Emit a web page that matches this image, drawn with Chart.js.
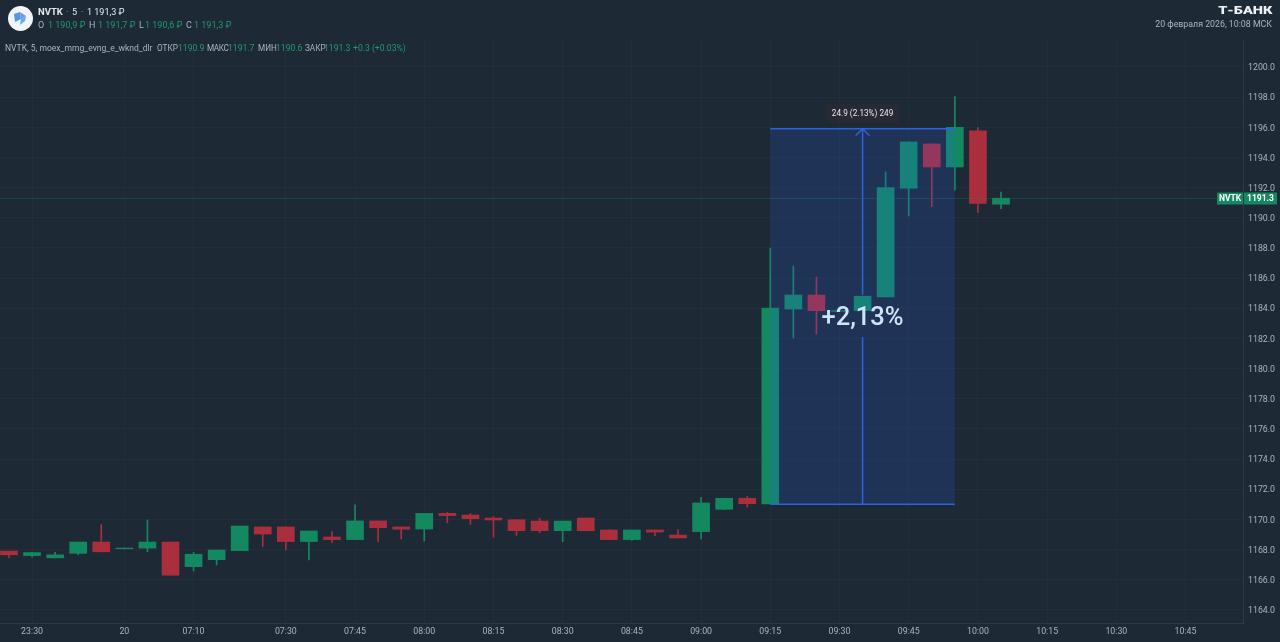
<!DOCTYPE html>
<html>
<head>
<meta charset="utf-8">
<title>NVTK</title>
<script src="https://cdn.jsdelivr.net/npm/chart.js@4/dist/chart.umd.js"></script>
<style>
    html, body { margin: 0; padding: 0; background: #1e2936; overflow: hidden; }
    #wrap { position: relative; width: 1280px; height: 642px; font-family: Roboto, sans-serif; }
    canvas { position: absolute; left: 0; top: 0; }
    .t { position: absolute; white-space: nowrap; line-height: 12px; font-size: 8.6px; color: #a9b4bf; }
    .g { color: #1f9a6e; }
    .w { color: #e4e8ec; }
    #logo { position: absolute; left: 8px; top: 6px; }
</style>
</head>
<body>
<div id="wrap">
    <canvas id="chart" width="1280" height="642"></canvas>
    <svg id="logo" width="25" height="25" viewBox="0 0 25 25">
        <circle cx="12.5" cy="12.5" r="12.5" fill="#f2f5f8"/>
        <path d="M6 8 L12 6 L13 13 L7 16 Z" fill="#4f9ae0"/>
        <path d="M12 6 L18 10 L13 13 Z" fill="#7f8fe8"/>
        <path d="M13 13 L18 10 L17 15 L12 19 Z" fill="#5ab0ec"/>
    </svg>
    <span class="t w" style="left:38px;top:6px;font-size:9.5px;font-weight:700">NVTK</span>
    <span class="t" style="left:66px;top:6px;font-size:9px">·</span>
    <span class="t w" style="left:72px;top:6px;font-size:9px">5</span>
    <span class="t" style="left:81px;top:6px;font-size:9px">·</span>
    <span class="t w" style="left:87px;top:6px;font-size:9px">1 191,3 ₽</span>
    <span class="t" style="left:38px;top:19px;font-size:9px">O</span><span class="t g" style="left:48px;top:19px;font-size:9px">1 190,9 ₽</span>
    <span class="t" style="left:89px;top:19px;font-size:9px">H</span><span class="t g" style="left:98px;top:19px;font-size:9px">1 191,7 ₽</span>
    <span class="t" style="left:139px;top:19px;font-size:9px">L</span><span class="t g" style="left:145px;top:19px;font-size:9px">1 190,6 ₽</span>
    <span class="t" style="left:186px;top:19px;font-size:9px">C</span><span class="t g" style="left:194px;top:19px;font-size:9px">1 191,3 ₽</span>
    <span class="t" style="left:5px;top:42px;font-size:8.55px">NVTK, 5, moex_mrng_evng_e_wknd_dlr</span>
    <span class="t" style="left:157px;top:42px;font-size:8.2px">ОТКР</span><span class="t g" style="left:178px;top:42px">1190.9</span>
    <span class="t" style="left:207px;top:42px;font-size:8.2px;letter-spacing:-0.4px">МАКС</span><span class="t g" style="left:228px;top:42px">1191.7</span>
    <span class="t" style="left:258px;top:42px;font-size:8.2px">МИН</span><span class="t g" style="left:276px;top:42px">1190.6</span>
    <span class="t" style="left:305px;top:42px;font-size:8.2px">ЗАКР</span><span class="t g" style="left:324px;top:42px">1191.3</span>
    <span class="t g" style="left:353px;top:42px">+0.3 (+0.03%)</span>
    <span class="t" style="right:8px;top:5px;font-size:10px;font-weight:900;color:#eef1f4;transform:scaleX(1.45);transform-origin:right center">Т‑БАНК</span>
    <span class="t" style="right:8px;top:18px;font-size:8.8px">20 февраля 2026, 10:08 МСК</span>
</div>
<script>
// candles, 5 min each
const opens  = [1167.9, 1167.6, 1167.45, 1167.75, 1168.5, 1168.05, 1168.1, 1168.5, 1166.87, 1167.33, 1167.93, 1169.5, 1169.5, 1168.53, 1168.83, 1168.66, 1169.9, 1169.5, 1169.36, 1170.4, 1170.29, 1170.09, 1169.98, 1169.89, 1169.25, 1170.09, 1169.3, 1168.66, 1169.3, 1168.96, 1169.19, 1170.67, 1171.4, 1171.02, 1183.95, 1184.88, 1183.8, 1183.85, 1184.75, 1191.96, 1194.9, 1193.37, 1195.76, 1190.9];
const highs  = [1167.9, 1167.82, 1167.82, 1168.5, 1169.65, 1168.1, 1169.96, 1168.5, 1167.82, 1167.97, 1169.56, 1169.5, 1169.5, 1169.23, 1169.19, 1170.96, 1169.9, 1169.5, 1170.4, 1170.47, 1170.4, 1170.2, 1169.98, 1170.07, 1169.89, 1170.09, 1169.3, 1169.3, 1169.3, 1169.32, 1171.46, 1171.4, 1171.53, 1188.0, 1186.8, 1186.07, 1183.85, 1184.8, 1193.04, 1195.03, 1194.9, 1198.03, 1195.98, 1191.7];
const lows   = [1167.45, 1167.49, 1167.45, 1167.65, 1167.85, 1168.05, 1167.86, 1166.3, 1166.58, 1166.98, 1167.93, 1168.2, 1167.97, 1167.31, 1168.46, 1168.66, 1168.53, 1168.7, 1168.57, 1169.78, 1169.67, 1168.81, 1168.94, 1169.1, 1168.52, 1169.25, 1168.66, 1168.6, 1168.92, 1168.77, 1168.7, 1170.67, 1170.82, 1171.02, 1182.03, 1182.3, 1183.8, 1183.85, 1184.75, 1190.12, 1190.74, 1191.84, 1190.36, 1190.6];
const closes = [1167.65, 1167.8, 1167.65, 1168.5, 1167.85, 1168.1, 1168.5, 1166.3, 1167.69, 1167.97, 1169.56, 1169.03, 1168.53, 1169.23, 1168.66, 1169.9, 1169.45, 1169.35, 1170.4, 1170.25, 1170.05, 1169.96, 1169.25, 1169.25, 1169.89, 1169.25, 1168.66, 1169.3, 1169.16, 1168.77, 1171.09, 1171.4, 1171.04, 1184.02, 1184.88, 1183.84, 1183.85, 1184.8, 1192.0, 1195.03, 1193.37, 1196.0, 1190.96, 1191.3];

// time axis: candle index of each label
const tickSlots  = [1, 5, 8, 12, 15, 18, 21, 24, 27, 30, 33, 36, 39, 42, 45, 48, 51];
const tickLabels = ['23:30', '20', '07:10', '07:30', '07:45', '08:00', '08:15', '08:30', '08:45', '09:00', '09:15', '09:30', '09:45', '10:00', '10:15', '10:30', '10:45'];

// price axis
const priceTicks = [1164, 1166, 1168, 1170, 1172, 1174, 1176, 1178, 1180, 1182, 1184, 1186, 1188, 1190, 1192, 1194, 1196, 1198, 1200];

// measure tool
const measureSlots  = [33, 41];
const measurePrices = [1171.0, 1195.9];
const measureLabel = '24.9 (2.13%) 249';
const measureBig = '+2,13%';

const lastPrice = 1191.3;
const ticker = 'NVTK';

const UP = '#14895f';
const DOWN = '#ab2e3c';
const FONT = 'Roboto, sans-serif';

const candleColors = closes.map((c, i) => c >= opens[i] ? UP : DOWN);

// drawn on top of the candles: price line, measure box, labels
const overlay = {
    id: 'overlay',
    afterDatasetsDraw(chart) {
        const { ctx, scales: { x, y }, chartArea } = chart;
        const left = x.getPixelForValue(measureSlots[0]);
        const right = x.getPixelForValue(measureSlots[1]);
        const top = y.getPixelForValue(measurePrices[1]);
        const bottom = y.getPixelForValue(measurePrices[0]);
        const mid = (left + right) / 2;
        const lastY = Math.round(y.getPixelForValue(lastPrice)) + 0.5;

        ctx.save();
        // last price line
        ctx.strokeStyle = 'rgba(20,137,95,0.3)';
        ctx.lineWidth = 1;
        ctx.beginPath();
        ctx.moveTo(chartArea.left, lastY);
        ctx.lineTo(chartArea.right, lastY);
        ctx.stroke();

        // measure box
        ctx.fillStyle = 'rgba(41,98,255,0.17)';
        ctx.fillRect(left, top, right - left, bottom - top);
        ctx.strokeStyle = '#2c62dc';
        ctx.lineWidth = 1.5;
        ctx.beginPath();
        ctx.moveTo(left, top); ctx.lineTo(right, top);
        ctx.moveTo(left, bottom); ctx.lineTo(right, bottom);
        ctx.moveTo(mid, bottom); ctx.lineTo(mid, y.getPixelForValue(1182.1));
        ctx.moveTo(mid, y.getPixelForValue(1184.9)); ctx.lineTo(mid, top);
        ctx.moveTo(mid - 7, top + 7); ctx.lineTo(mid, top); ctx.lineTo(mid + 7, top + 7);
        ctx.stroke();

        // measure tooltip
        ctx.fillStyle = '#272a32';
        ctx.beginPath();
        ctx.roundRect(mid - 37, top - 25, 74, 19, 2);
        ctx.fill();
        ctx.fillStyle = '#e4e8ec';
        ctx.font = '8.2px ' + FONT;
        ctx.textAlign = 'center';
        ctx.textBaseline = 'middle';
        ctx.fillText(measureLabel, mid, top - 15);

        // big percent label
        ctx.fillStyle = '#cfe4f7';
        ctx.font = '500 25.5px ' + FONT;
        ctx.fillText(measureBig, mid, y.getPixelForValue(1183.33));

        // price tag on the axis
        ctx.fillStyle = UP;
        ctx.fillRect(1217, lastY - 6, 26, 12);
        ctx.fillRect(1244, lastY - 6, 33, 12);
        ctx.fillStyle = '#ffffff';
        ctx.font = '700 8.5px ' + FONT;
        ctx.fillText(ticker, 1230, lastY + 0.5);
        ctx.fillText(lastPrice.toFixed(1), 1260.5, lastY + 0.5);
        ctx.restore();
    }
};

new Chart(document.getElementById('chart').getContext('2d'), {
    type: 'bar',
    plugins: [overlay],
    data: {
        datasets: [{
            // bodies
            data: opens.map((o, i) => ({ x: i, y: [o, closes[i]] })),
            backgroundColor: candleColors,
            barThickness: 17,
            grouped: false,
            borderSkipped: false,
            order: 1
        }, {
            // wicks
            data: lows.map((l, i) => ({ x: i, y: [l, highs[i]] })),
            backgroundColor: candleColors,
            barThickness: 1,
            grouped: false,
            borderSkipped: false,
            order: 2
        }]
    },
    options: {
        responsive: false,
        animation: false,
        layout: { padding: { top: 40 } },
        plugins: { legend: { display: false }, tooltip: { enabled: false } },
        scales: {
            x: {
                type: 'linear',
                offset: false,
                min: -0.39,
                max: 53.49,
                afterBuildTicks: scale => { scale.ticks = tickSlots.map(v => ({ value: v })); },
                afterFit: scale => { scale.height = 19; },
                grid: { color: 'rgba(255,255,255,0.025)', drawTicks: false, offset: false },
                border: { color: 'rgba(255,255,255,0.07)' },
                ticks: {
                    autoSkip: false,
                    maxRotation: 0,
                    padding: 4,
                    color: '#a9b4bf',
                    font: { family: FONT, size: 8.8 },
                    callback: value => tickLabels[tickSlots.indexOf(value)]
                }
            },
            y: {
                position: 'right',
                min: 1163.13,
                max: 1201.79,
                afterBuildTicks: scale => { scale.ticks = priceTicks.map(v => ({ value: v })); },
                afterFit: scale => { scale.width = 37; },
                grid: { color: 'rgba(255,255,255,0.025)', drawTicks: false },
                border: { color: 'rgba(255,255,255,0.07)' },
                ticks: {
                    padding: 5,
                    labelOffset: 1,
                    color: '#a9b4bf',
                    font: { family: FONT, size: 8.8 },
                    callback: value => value.toFixed(1)
                }
            }
        }
    }
});
</script>
</body>
</html>
